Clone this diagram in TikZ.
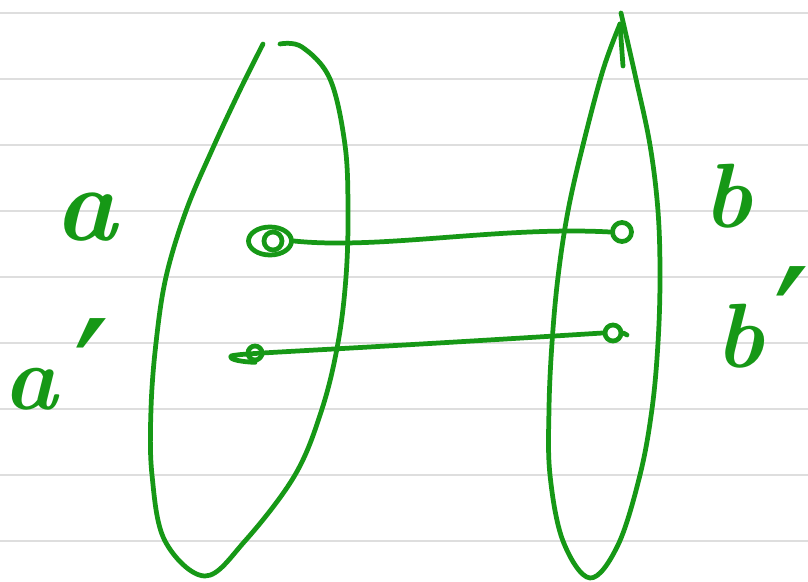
\documentclass[tikz,border=0pt]{standalone}
\usepackage{fontspec}
\newfontfamily\primefont{DejaVu Sans}
\usetikzlibrary{shapes.geometric}
\definecolor{ink}{RGB}{22,152,22}
\definecolor{rulegray}{RGB}{222,222,222}
\begin{document}
\begin{tikzpicture}[x=0.01cm,y=-0.01cm,
  pen/.style={draw=ink, line width=1.35pt, line cap=round, line join=round},
  ruling/.style={draw=rulegray, line width=0.85pt},
  dot/.style={pen, circle, inner sep=0pt},
  lbl/.style={text=ink, inner sep=0pt}]
\useasboundingbox[fill=white] (0,0) rectangle (808,582);
\foreach \y in {13,79,...,541} \draw[ruling] (0,\y) -- (808,\y);
% left set
\draw[pen] plot[smooth, tension=0.6] coordinates {(263,44) (240,90) (212,150) (186,211) (166,277) (156,343) (151,409) (152,475) (165,541) (205,576) (245,541) (295,475) (322,409) (338,343) (346,277) (348,211) (345,145) (330,79) (302,47) (280,44)};
% right set
\draw[pen] (623,66) -- (620,24);
\draw[pen] plot[smooth, tension=0.6] coordinates {(620,24) (603,70) (583,145) (568,211) (558,277) (552,343) (549,409) (550,475) (563,541) (590,578) (618,545) (640,475) (652,409) (658,343) (660,277) (658,211) (650,145) (636,79) (621,13)};
% points
\node[dot, ellipse, minimum width=0.43cm, minimum height=0.28cm] (A) at (270,241) {};
\node[dot, minimum width=0.15cm, minimum height=0.18cm] (Ai) at (273,241) {};
\node[dot, minimum size=0.19cm] (B) at (622,232) {};
\node[dot, minimum size=0.14cm] (C) at (255,353) {};
\node[dot, minimum size=0.16cm] (D) at (613,333) {};
\coordinate (Ct) at (231,356);
\coordinate (Dt) at (627,335);
% connectors
\draw[pen] (A.east) .. controls (380,250) and (500,226) .. (B.west);
\draw[pen] (C.south) .. controls (245,362) and (228,360) .. (Ct) .. controls (240,353) and (300,352) .. (D.west);
\draw[pen] (D.east) -- (Dt);
% labels
\node[lbl, font=\fontsize{30}{36}\selectfont\bfseries\itshape] (la) at (86,217) {a};
\node[lbl, font=\fontsize{26}{30}\selectfont\bfseries\itshape] (la2) at (31,389) {a};
\node[lbl, font=\fontsize{46}{50}\selectfont\primefont] (lap) at (92,378) {′};
\node[lbl, font=\fontsize{26}{30}\selectfont\bfseries\itshape] (lb) at (728,196) {b};
\node[lbl, font=\fontsize{26}{30}\selectfont\bfseries\itshape] (lb2) at (740,336) {b};
\node[lbl, font=\fontsize{46}{50}\selectfont\primefont] (lbp) at (792,326) {′};
\end{tikzpicture}
\end{document}
